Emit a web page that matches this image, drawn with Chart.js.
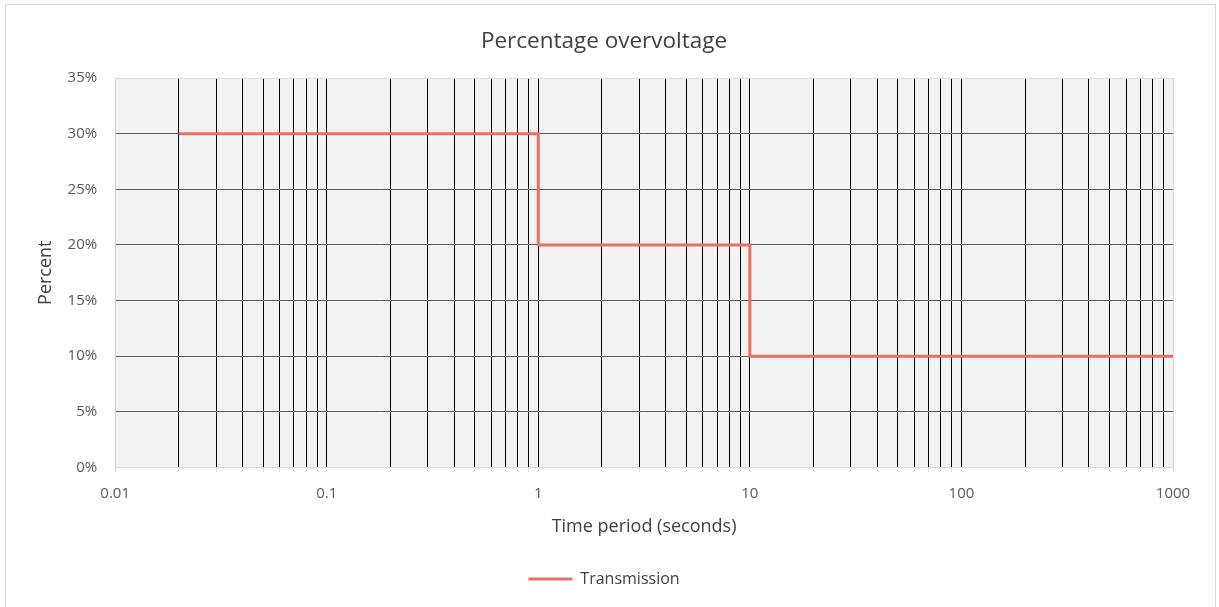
<!DOCTYPE html>
<html>
<head>
<meta charset="utf-8">
<script src="https://cdn.jsdelivr.net/npm/chart.js@4"></script>
<style>
    body { margin: 0; background: #fff; }
    #wrap { position: absolute; left: 5px; top: 4px; width: 1209px; height: 602px; border: 1px solid #d9d9d9; border-bottom: none; }
</style>
</head>
<body>
<div id="wrap"><canvas id="chart"></canvas></div>
<script>
// values
const xTickLabels = ['0.01', '0.1', '1', '10', '100', '1000']
const times = [0.02, 1, 10, 1000]          // seconds, where each level starts
const overvoltage = [30, 20, 10, 10]       // percent
const yTicks = [0, 5, 10, 15, 20, 25, 30, 35]

const textColor = '#595959'
const font = "'Open Sans', 'Liberation Sans', sans-serif"

Chart.defaults.color = textColor
Chart.defaults.font.family = font

// grey plot area with a thin frame
const plotArea = {
    id: 'plotArea',
    beforeDraw(chart) {
        let a = chart.chartArea
        let ctx = chart.ctx
        ctx.save()
        ctx.fillStyle = '#f2f2f2'
        ctx.fillRect(a.left, a.top, a.right - a.left, a.bottom - a.top)
        ctx.restore()
    },
    afterDraw(chart) {
        let a = chart.chartArea
        let ctx = chart.ctx
        ctx.save()
        ctx.strokeStyle = '#d9d9d9'
        ctx.lineWidth = 1
        ctx.beginPath()
        ctx.moveTo(a.left, Math.round(a.top) + 0.5)
        ctx.lineTo(a.right, Math.round(a.top) + 0.5)
        ctx.moveTo(Math.round(a.right) + 0.5, a.top)
        ctx.lineTo(Math.round(a.right) + 0.5, a.bottom)
        ctx.stroke()
        ctx.restore()
    }
}

let xMin = Number(xTickLabels[0])
let xMax = Number(xTickLabels[xTickLabels.length - 1])

var graph = new Chart(document.getElementById('chart'), {
    type: 'line',
    data: {
        datasets: [{
            label: 'Transmission',
            data: times.map((t, i) => ({ x: t, y: overvoltage[i] })),
            stepped: 'before',
            borderColor: '#e8705f',
            backgroundColor: '#e8705f',
            borderWidth: 3,
            pointRadius: 0,
            pointStyle: 'line',
            fill: false
        }]
    },
    plugins: [plotArea],
    options: {
        responsive: true,
        maintainAspectRatio: false,
        animation: false,
        layout: { padding: { left: 29, right: 42, top: 9, bottom: 10 } },
        plugins: {
            title: {
                display: true,
                text: 'Percentage overvoltage',
                color: '#404040',
                font: { size: 22.5, weight: 'normal' },
                padding: { top: 14, bottom: 23 }
            },
            legend: {
                position: 'bottom',
                labels: {
                    usePointStyle: true,
                    pointStyleWidth: 44,
                    boxHeight: 15,
                    color: '#404040',
                    font: { size: 16 },
                    padding: 10
                }
            },
            tooltip: { enabled: false }
        },
        scales: {
            x: {
                type: 'logarithmic',
                min: xMin,
                max: xMax,
                afterBuildTicks: scale => {
                    let ticks = []
                    for (let e = -2; e <= 2; e++) {
                        for (let m = 1; m <= 9; m++) {
                            ticks.push({ value: Number((m * Math.pow(10, e)).toPrecision(3)) })
                        }
                    }
                    ticks.push({ value: xMax })
                    scale.ticks = ticks
                },
                ticks: {
                    autoSkip: false,
                    maxRotation: 0,
                    padding: 12,
                    font: { size: 15 },
                    callback: value => {
                        let l = xTickLabels.find(s => Number(s) == value)
                        return l ? l : ''
                    }
                },
                grid: {
                    color: ctx => (ctx.tick && (ctx.tick.value == xMin || ctx.tick.value == xMax)) ? 'rgba(0,0,0,0)' : '#000000',
                    tickColor: '#d9d9d9',
                    tickLength: 5,
                    lineWidth: 1
                },
                border: { color: '#d9d9d9' },
                title: {
                    display: true,
                    text: 'Time period (seconds)',
                    color: '#404040',
                    font: { size: 18 },
                    padding: { top: 2, bottom: 23 }
                }
            },
            y: {
                min: yTicks[0],
                max: yTicks[yTicks.length - 1],
                afterBuildTicks: scale => {
                    scale.ticks = yTicks.map(v => ({ value: v }))
                },
                ticks: {
                    padding: 18,
                    font: { size: 15 },
                    callback: value => value + '%'
                },
                grid: {
                    color: ctx => (ctx.tick && (ctx.tick.value == yTicks[0] || ctx.tick.value == yTicks[yTicks.length - 1])) ? 'rgba(0,0,0,0)' : '#595959',
                    drawTicks: false
                },
                border: { color: '#d9d9d9' },
                title: {
                    display: true,
                    text: 'Percent',
                    color: '#404040',
                    font: { size: 18 },
                    padding: { top: 0, bottom: -7 }
                }
            }
        }
    }
})
</script>
</body>
</html>
